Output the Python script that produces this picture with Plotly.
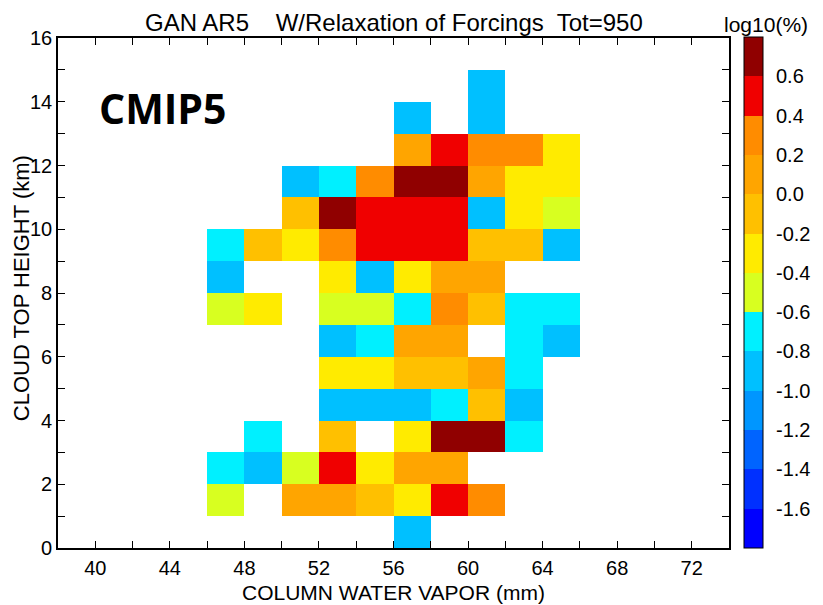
import plotly.graph_objects as go

# ---- data ----
# bin edges
cwv_edges = [38, 40, 42, 44, 46, 48, 50, 52, 54, 56, 58, 60, 62, 64, 66, 68, 70, 72, 74]
cth_edges = [0, 1, 2, 3, 4, 5, 6, 7, 8, 9, 10, 11, 12, 13, 14, 15, 16]

# colour levels (log10 %)
levels = [-1.8, -1.6, -1.4, -1.2, -1.0, -0.8, -0.6, -0.4, -0.2, 0.0, 0.2, 0.4, 0.6, 0.8]
level_colors = ["#0000FF", "#0030FF", "#0064FF", "#0096FF", "#00C0FF", "#00F0FF",
                "#D8FF20", "#FFEB00", "#FFC000", "#FFA500", "#FF8C00", "#F00000", "#900000"]

# non-empty cells: lower-left CWV bin edge (mm), lower cloud-top-height edge (km), log10(%)
cell_cwv = [56,
            46, 50, 52, 54, 56, 58, 60,
            46, 48, 50, 52, 54, 56, 58,
            48, 52, 56, 58, 60, 62,
            52, 54, 56, 58, 60, 62,
            52, 54, 56, 58, 60, 62,
            52, 54, 56, 58, 62, 64,
            46, 48, 52, 54, 56, 58, 60, 62, 64,
            46, 52, 54, 56, 58, 60,
            46, 48, 50, 52, 54, 56, 58, 60, 62, 64,
            50, 52, 54, 56, 58, 60, 62, 64,
            50, 52, 54, 56, 58, 60, 62, 64,
            56, 58, 60, 62, 64,
            56, 60,
            60]
cell_cth = [0,
            1, 1, 1, 1, 1, 1, 1,
            2, 2, 2, 2, 2, 2, 2,
            3, 3, 3, 3, 3, 3,
            4, 4, 4, 4, 4, 4,
            5, 5, 5, 5, 5, 5,
            6, 6, 6, 6, 6, 6,
            7, 7, 7, 7, 7, 7, 7, 7, 7,
            8, 8, 8, 8, 8, 8,
            9, 9, 9, 9, 9, 9, 9, 9, 9, 9,
            10, 10, 10, 10, 10, 10, 10, 10,
            11, 11, 11, 11, 11, 11, 11, 11,
            12, 12, 12, 12, 12,
            13, 13,
            14]
cell_log_pct = [-0.9,
                -0.5, 0.1, 0.1, -0.1, -0.3, 0.5, 0.3,
                -0.7, -0.9, -0.5, 0.5, -0.3, 0.1, 0.1,
                -0.7, -0.1, -0.3, 0.7, 0.7, -0.7,
                -0.9, -0.9, -0.9, -0.7, -0.1, -0.9,
                -0.3, -0.3, -0.1, -0.1, 0.1, -0.7,
                -0.9, -0.7, 0.1, 0.1, -0.7, -0.9,
                -0.5, -0.3, -0.5, -0.5, -0.7, 0.3, -0.1, -0.7, -0.7,
                -0.9, -0.3, -0.9, -0.3, 0.1, 0.1,
                -0.7, -0.1, -0.3, 0.3, 0.5, 0.5, 0.5, -0.1, -0.1, -0.9,
                -0.1, 0.7, 0.5, 0.5, 0.5, -0.9, -0.3, -0.5,
                -0.9, -0.7, 0.3, 0.7, 0.7, 0.1, -0.3, -0.3,
                0.1, 0.5, 0.3, 0.3, -0.3,
                -0.9, -0.9,
                -0.9]

x_tick_vals = [40, 42, 44, 46, 48, 50, 52, 54, 56, 58, 60, 62, 64, 66, 68, 70, 72]
x_tick_text = ["40", "", "44", "", "48", "", "52", "", "56", "", "60", "", "64", "", "68", "", "72"]
y_tick_vals = [0, 1, 2, 3, 4, 5, 6, 7, 8, 9, 10, 11, 12, 13, 14, 15, 16]
y_tick_text = ["0", "", "2", "", "4", "", "6", "", "8", "", "10", "", "12", "", "14", "", "16"]
cbar_tick_vals = [-1.6, -1.4, -1.2, -1.0, -0.8, -0.6, -0.4, -0.2, 0.0, 0.2, 0.4, 0.6]
cbar_tick_text = ["-1.6", "-1.4", "-1.2", "-1.0", "-0.8", "-0.6", "-0.4", "-0.2", "0.0", "0.2", "0.4", "0.6"]

title_text = "GAN AR5    W/Relaxation of Forcings  Tot=950"

# ---- build grid ----
nx = len(cwv_edges) - 1
ny = len(cth_edges) - 1
z = [[None] * nx for _ in range(ny)]
for cx, cy, v in zip(cell_cwv, cell_cth, cell_log_pct):
    z[cth_edges.index(cy)][cwv_edges.index(cx)] = v

zmin, zmax = levels[0], levels[-1]
n = len(level_colors)
colorscale = []
for i, c in enumerate(level_colors):
    colorscale.append([i / n, c])
    colorscale.append([(i + 1) / n, c])

# ---- layout geometry (figure pixels) ----
W, H = 815, 597
ML, MR, MT, MB = 50, 90, 30, 57
PW, PH = W - ML - MR, H - MT - MB


def px(xpix):
    return (xpix - ML) / PW


def py(ypix):
    return (H - MB - ypix) / PH


CB_LEFT = 740
CB_THICK = 19

FONT = "Liberation Sans, Arial, sans-serif"

fig = go.Figure()
fig.add_trace(go.Heatmap(
    x=cwv_edges, y=cth_edges, z=z,
    zmin=zmin, zmax=zmax, colorscale=colorscale,
    hoverongaps=False,
    colorbar=dict(
        x=px(CB_LEFT), xanchor="left", xpad=0,
        y=0, yanchor="bottom", len=PH + 1, lenmode="pixels", ypad=0,
        thickness=CB_THICK, outlinewidth=1, outlinecolor="black",
        tickvals=cbar_tick_vals, ticktext=cbar_tick_text,
        ticks="outside", ticklen=9, tickcolor="rgba(0,0,0,0)",
        tickfont=dict(family=FONT, size=20, color="black"),
    ),
))

# separator lines inside the colourbar at each level boundary
for b in levels[1:-1]:
    yp = (b - zmin) / (zmax - zmin)
    fig.add_shape(type="line", xref="paper", yref="paper",
                  x0=px(CB_LEFT), x1=px(CB_LEFT + CB_THICK), y0=yp, y1=yp,
                  line=dict(color="black", width=1))

axis_common = dict(
    showline=True, linecolor="black", linewidth=1.6, mirror="allticks",
    ticks="inside", ticklen=7, tickwidth=1.2, tickcolor="black",
    showgrid=False, zeroline=False,
    tickfont=dict(family=FONT, size=20, color="black"),
)

fig.update_layout(
    width=W, height=H,
    margin=dict(l=ML, r=MR, t=MT, b=MB),
    paper_bgcolor="white", plot_bgcolor="white",
    xaxis=dict(range=[38, 74], tickvals=x_tick_vals, ticktext=x_tick_text,
               ticklabelstandoff=1, **axis_common),
    yaxis=dict(range=[0, 16], tickvals=y_tick_vals, ticktext=y_tick_text,
               **axis_common),
    annotations=[
        dict(text=title_text, xref="paper", yref="paper", x=0.5, y=1.0,
             xanchor="center", yanchor="bottom", yshift=0, showarrow=False,
             font=dict(family=FONT, size=24, color="black")),
        dict(text="CMIP5", xref="paper", yref="paper",
             x=px(156), y=py(100),
             xanchor="center", yanchor="middle", showarrow=False,
             font=dict(family="Open Sans", size=41, color="black", weight="bold")),
        dict(text="log10(%)", xref="paper", yref="paper",
             x=px(762), y=1.0, xanchor="center", yanchor="bottom",
             yshift=0, showarrow=False,
             font=dict(family=FONT, size=21, color="black")),
        dict(text="COLUMN WATER VAPOR (mm)", xref="paper", yref="paper",
             x=0.5, y=py(584), xanchor="center", yanchor="middle", showarrow=False,
             font=dict(family=FONT, size=21, color="black")),
        dict(text="CLOUD TOP HEIGHT (km)", xref="paper", yref="paper",
             x=px(13), y=py(280), xanchor="center", yanchor="middle",
             textangle=-90, showarrow=False,
             font=dict(family=FONT, size=22, color="black")),
    ],
)

fig.write_html("out.html")
